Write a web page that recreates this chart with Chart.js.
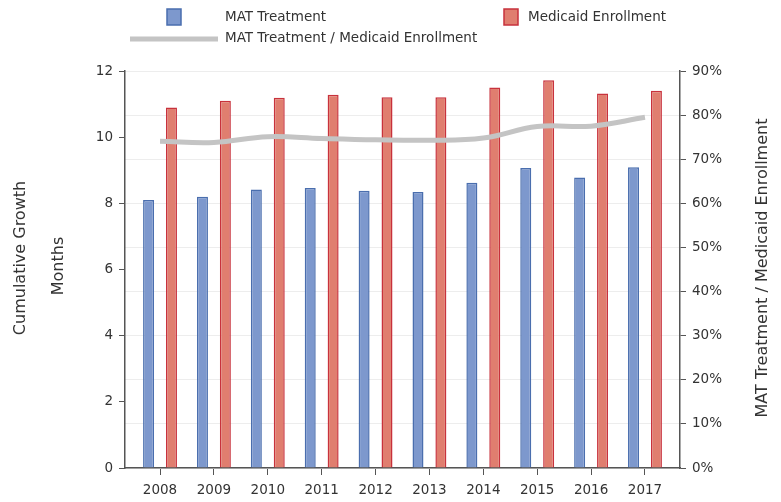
<!DOCTYPE html>
<html>
<head>
<meta charset="utf-8">
<script src="https://cdn.jsdelivr.net/npm/chart.js@4.4.1/dist/chart.umd.min.js"></script>
<style>
  body { margin: 0; background: #fff; }
  canvas { display: block; }
</style>
</head>
<body>
<canvas id="growthChart" width="781" height="502"></canvas>
<script>
const years = ['2008', '2009', '2010', '2011', '2012', '2013', '2014', '2015', '2016', '2017'];
const matTreatment = [8.1, 8.2, 8.42, 8.46, 8.38, 8.34, 8.62, 9.07, 8.78, 9.09];
const medicaidEnrollment = [10.9, 11.1, 11.19, 11.28, 11.21, 11.21, 11.5, 11.72, 11.32, 11.4];
const ratioPct = [74.1, 73.8, 75.1, 74.7, 74.4, 74.3, 74.8, 77.4, 77.5, 79.5];

const leftTicks = [0, 2, 4, 6, 8, 10, 12];
const rightTicks = [0, 10, 20, 30, 40, 50, 60, 70, 80, 90];

const FONT = '"DejaVu Sans", sans-serif';
const TEXT = '#333';
const AXIS = '#555';

// legend + axis titles drawn by hand, the layout of the original does not fit the built-in legend
const extras = {
    id: 'extras',
    afterDraw(chart) {
        const c = chart.ctx;
        const ds = chart.data.datasets;
        c.save();
        c.font = '13.5px ' + FONT;
        c.textBaseline = 'middle';

        // row 1: bar swatches
        c.lineWidth = 1.5;
        c.fillStyle = ds[0].backgroundColor;
        c.strokeStyle = ds[0].borderColor;
        c.fillRect(167, 9, 14, 16);
        c.strokeRect(167, 9, 14, 16);
        c.fillStyle = ds[1].backgroundColor;
        c.strokeStyle = ds[1].borderColor;
        c.fillRect(504, 9, 14, 16);
        c.strokeRect(504, 9, 14, 16);

        c.fillStyle = TEXT;
        c.textAlign = 'left';
        c.fillText(ds[0].label, 225, 17);
        c.fillText(ds[1].label, 528, 17);

        // row 2: line swatch
        c.strokeStyle = ds[2].borderColor;
        c.lineWidth = 5;
        c.beginPath();
        c.moveTo(130, 39);
        c.lineTo(218, 39);
        c.stroke();
        c.fillText(ds[2].label, 225, 38);

        // axis titles
        c.font = '16px ' + FONT;
        c.textAlign = 'center';
        const vtext = (txt, x, y) => {
            c.save();
            c.translate(x, y);
            c.rotate(-Math.PI / 2);
            c.fillText(txt, 0, 0);
            c.restore();
        };
        vtext('Cumulative Growth', 21, 258);
        vtext('Months', 59, 266);
        vtext('MAT Treatment / Medicaid Enrollment', 763, 268);

        c.restore();
    }
};

new Chart(document.getElementById('growthChart'), {
    type: 'bar',
    data: {
        labels: years,
        datasets: [
            {
                label: 'MAT Treatment',
                data: matTreatment,
                backgroundColor: '#7d98cd',
                borderColor: '#4a6eae',
                borderWidth: 1.5,
                yAxisID: 'y',
                order: 1
            },
            {
                label: 'Medicaid Enrollment',
                data: medicaidEnrollment,
                backgroundColor: '#e07e6f',
                borderColor: '#c8323c',
                borderWidth: 1.5,
                yAxisID: 'y',
                order: 2
            },
            {
                type: 'line',
                label: 'MAT Treatment / Medicaid Enrollment',
                data: ratioPct,
                borderColor: '#c4c4c4',
                backgroundColor: '#c4c4c4',
                borderWidth: 5,
                tension: 0.4,
                pointRadius: 0,
                yAxisID: 'y2',
                order: 0
            }
        ]
    },
    options: {
        responsive: false,
        animation: false,
        categoryPercentage: 0.85,
        barPercentage: 0.48,
        layout: {
            padding: { top: 71, left: 0, right: 0, bottom: 0 }
        },
        plugins: {
            legend: { display: false },
            tooltip: { enabled: false }
        },
        scales: {
            x: {
                // the original leaves a wider margin at both ends than a plain category axis
                afterBuildTicks(scale) {
                    scale._startValue = -0.65;
                    scale._valueRange = years.length - 1 + 1.3;
                },
                grid: {
                    offset: false,
                    drawOnChartArea: false,
                    tickLength: 7,
                    tickColor: AXIS
                },
                border: { color: AXIS, width: 1.5 },
                ticks: {
                    color: TEXT,
                    padding: 7,
                    font: { family: FONT, size: 13.5 }
                },
                afterFit(scale) { scale.height = 34; }
            },
            y: {
                position: 'left',
                min: 0,
                max: 12,
                afterBuildTicks(scale) { scale.ticks = leftTicks.map(v => ({ value: v })); },
                grid: {
                    drawOnChartArea: false,
                    tickLength: 6,
                    tickColor: AXIS
                },
                border: { color: AXIS, width: 1.5 },
                ticks: {
                    color: TEXT,
                    padding: 6,
                    font: { family: FONT, size: 13.5 }
                },
                afterFit(scale) { scale.width = 125; }
            },
            y2: {
                position: 'right',
                min: 0,
                max: 90,
                afterBuildTicks(scale) { scale.ticks = rightTicks.map(v => ({ value: v })); },
                grid: {
                    color: '#ededed',
                    tickColor: AXIS,
                    tickLength: 6
                },
                border: { color: AXIS, width: 1.5 },
                ticks: {
                    color: TEXT,
                    padding: 6,
                    font: { family: FONT, size: 13.5 },
                    callback: v => v + '%'
                },
                afterFit(scale) { scale.width = 101; }
            }
        }
    },
    plugins: [extras]
});
</script>
</body>
</html>
